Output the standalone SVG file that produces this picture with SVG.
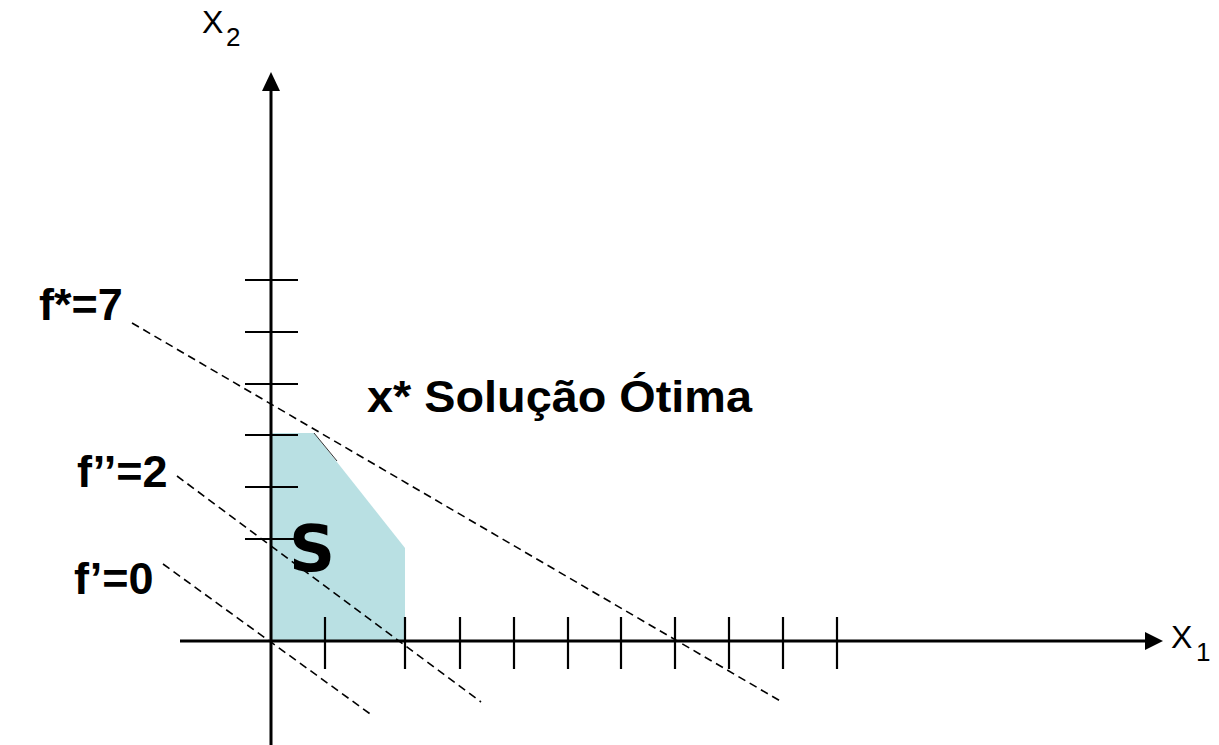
<svg xmlns="http://www.w3.org/2000/svg" width="1219" height="745" viewBox="0 0 1219 745">
<style>
.axis{stroke:#000;stroke-width:3;fill:none}
.tick{stroke:#000;stroke-width:2.2}
.dash{stroke:#000;stroke-width:1.6;stroke-dasharray:8 5;fill:none}
.lbl{font-family:"Liberation Sans",Arial,sans-serif;font-weight:bold;font-size:45px;fill:#000}
.ax{font-family:"Liberation Sans",Arial,sans-serif;fill:#000}
</style>
<rect width="1219" height="745" fill="#fff"/>
<g id="region-S">
<polygon points="271,641 271,433 314,433 405,548 405,641" fill="#B9E0E3"/>
<line x1="314" y1="433" x2="337" y2="461" stroke="#333" stroke-width="1"/>
<text x="289" y="571" font-family="'DejaVu Sans',Verdana,sans-serif" font-weight="bold" font-size="64">S</text>
</g>
<g id="axes">
<line class="axis" x1="271" y1="745" x2="271" y2="86"/>
<polygon points="271,72 262,91 280,91" fill="#000"/>
<line class="axis" x1="180" y1="641" x2="1148" y2="641"/>
<polygon points="1163,641 1145,632 1145,650" fill="#000"/>
</g>
<g id="ticks">
<line class="tick" x1="245" y1="280" x2="298" y2="280"/>
<line class="tick" x1="245" y1="332" x2="298" y2="332"/>
<line class="tick" x1="245" y1="384" x2="298" y2="384"/>
<line class="tick" x1="245" y1="435" x2="298" y2="435"/>
<line class="tick" x1="245" y1="487" x2="298" y2="487"/>
<line class="tick" x1="245" y1="539" x2="298" y2="539"/>
<line class="tick" x1="325" y1="617" x2="325" y2="669"/>
<line class="tick" x1="405" y1="617" x2="405" y2="669"/>
<line class="tick" x1="460" y1="617" x2="460" y2="669"/>
<line class="tick" x1="514" y1="617" x2="514" y2="669"/>
<line class="tick" x1="568" y1="617" x2="568" y2="669"/>
<line class="tick" x1="621" y1="617" x2="621" y2="669"/>
<line class="tick" x1="675" y1="617" x2="675" y2="669"/>
<line class="tick" x1="729" y1="617" x2="729" y2="669"/>
<line class="tick" x1="783" y1="617" x2="783" y2="669"/>
<line class="tick" x1="837" y1="617" x2="837" y2="669"/>
</g>
<g id="connectors">
<line class="dash" x1="132" y1="323" x2="782" y2="702"/>
<line class="dash" x1="177" y1="476" x2="481" y2="702"/>
<line class="dash" x1="163" y1="564" x2="373" y2="716"/>
</g>
<g id="labels">
<text class="lbl" x="39" y="320">f*=7</text>
<text class="lbl" x="77" y="487">f’’=2</text>
<text class="lbl" x="74" y="594">f’=0</text>
<text class="lbl" x="367" y="412" font-size="48.5" textLength="385" lengthAdjust="spacingAndGlyphs">x* Solução Ótima</text>
<text class="ax" x="202" y="33" font-size="32">X</text>
<text class="ax" x="226" y="46" font-size="26">2</text>
<text class="ax" x="1171" y="648" font-size="32">X</text>
<text class="ax" x="1196" y="661" font-size="26">1</text>
</g>
</svg>
